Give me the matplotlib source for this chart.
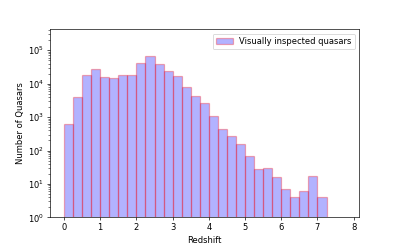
import numpy as np
import matplotlib
matplotlib.use("Agg")
import matplotlib.pyplot as plt

bin_edges = np.arange(0, 7.25 + 0.001, 0.25)
counts = [615, 4000, 18700, 28000, 15900, 14900, 18300, 18700, 41000, 66000,
          40000, 23500, 17500, 7700, 4200, 2700, 1060, 455, 270, 152,
          68, 28, 29, 16, 7, 4, 6, 17, 4]
label = "Visually inspected quasars"

DPI = 60
fig = plt.figure(figsize=(399 / DPI, 249 / DPI), dpi=DPI)
ax = fig.add_axes([0.125, 0.127, 0.775, 0.755])
centers = (bin_edges[:-1] + bin_edges[1:]) / 2
ax.hist(centers, bins=bin_edges, weights=counts, color='blue', alpha=0.3,
        edgecolor='red', linewidth=1.5, label=label)
ax.set_yscale('log')
ax.set_ylim(1, 4.2e5)
ax.set_xlim(-0.39, 8.15)
ax.set_xlabel("Redshift")
ax.set_ylabel("Number of Quasars")
ax.legend(loc='upper right')
fig.savefig("out.png", dpi=DPI)
